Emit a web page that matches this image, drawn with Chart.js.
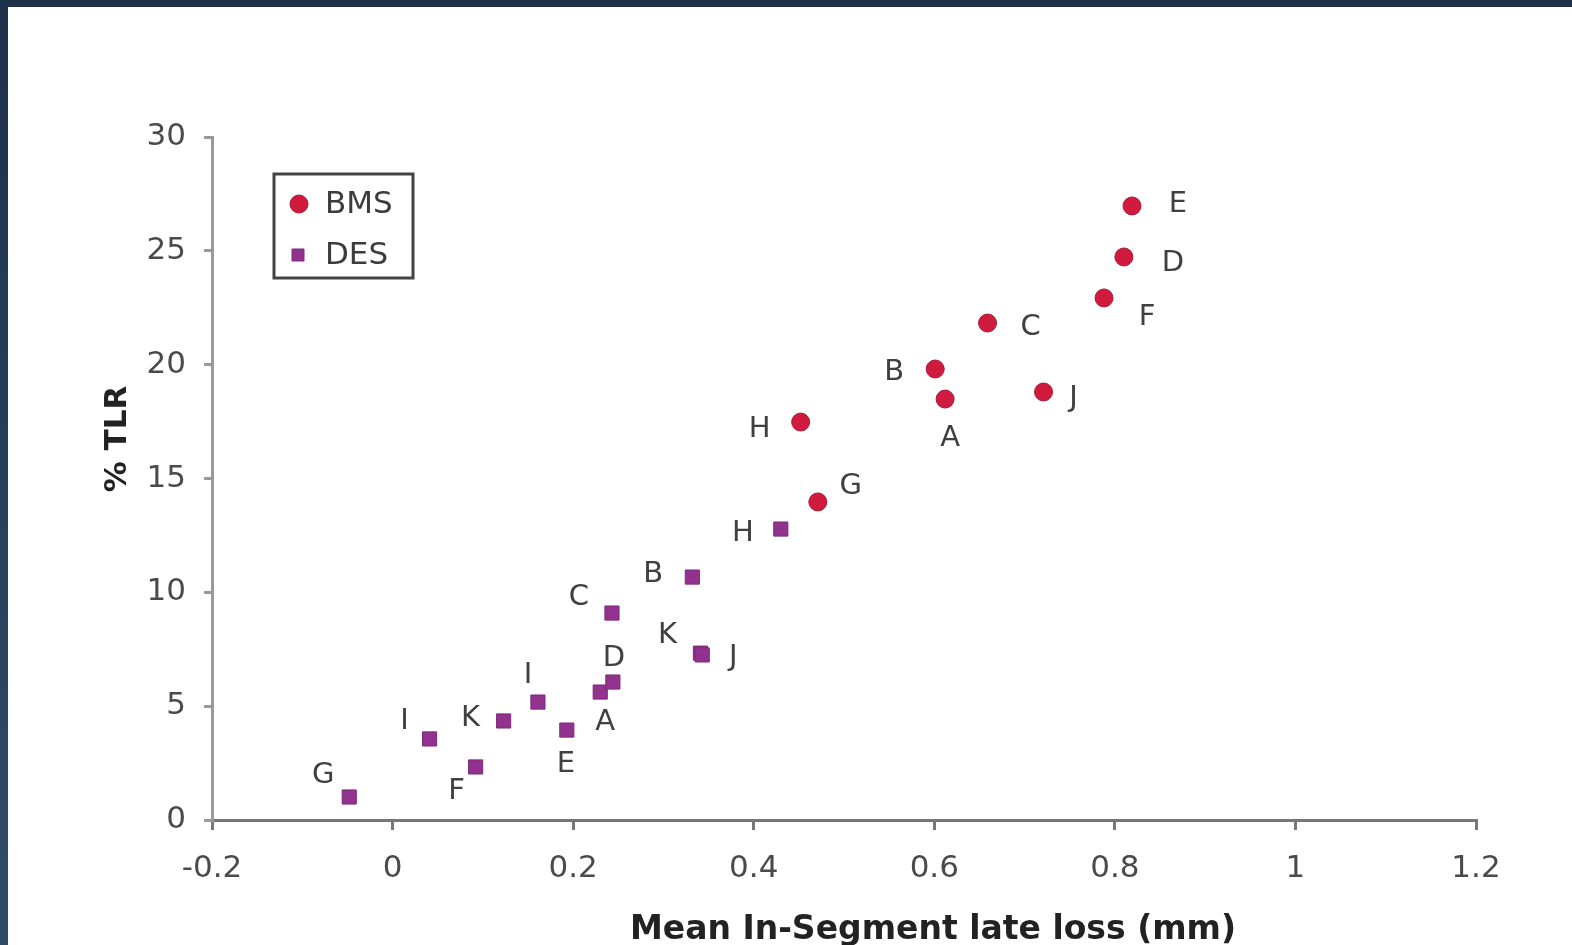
<!DOCTYPE html>
<html lang="en">
<head>
  <meta charset="UTF-8" />
  <title>% TLR vs Mean In-Segment late loss</title>
  <script src="https://cdn.jsdelivr.net/npm/chart.js"></script>
  <style>
    body {
      margin: 0;
      width: 1572px;
      height: 945px;
      overflow: hidden;
      background: linear-gradient(180deg, #1f3049, #2f4d6b);
    }

    .panel {
      position: absolute;
      left: 8px;
      top: 7px;
      width: 1564px;
      height: 938px;
      background: white;
    }

    canvas {
      filter: blur(0.5px);
    }
  </style>
</head>
<body>

  <div class="panel">
    <canvas id="scatter" width="1564" height="938"></canvas>
  </div>

  <script>
    // BMS trials
    const bmsNames = ['E', 'D', 'F', 'C', 'B', 'A', 'J', 'H', 'G'];
    const bmsLoss = [0.819, 0.810, 0.788, 0.659, 0.601, 0.612, 0.721, 0.452, 0.471];
    const bmsTlr = [26.97, 24.73, 22.93, 21.83, 19.81, 18.49, 18.80, 17.48, 13.97];

    // DES trials
    const desNames = ['G', 'I', 'F', 'K', 'I', 'E', 'A', 'D', 'C', 'B', 'K', 'J', 'H'];
    const desLoss = [-0.048, 0.041, 0.092, 0.123, 0.161, 0.193, 0.230, 0.244, 0.243, 0.332, 0.341, 0.343, 0.430];
    const desTlr = [1.01, 3.56, 2.33, 4.35, 5.18, 3.95, 5.62, 6.06, 9.09, 10.67, 7.33, 7.25, 12.78];

    const xTicks = [-0.2, 0, 0.2, 0.4, 0.6, 0.8, 1, 1.2];
    const yTicks = [0, 5, 10, 15, 20, 25, 30];

    // where each letter sits relative to its marker (px)
    const bmsLabelOffsets = [[46, -2], [49, 6], [43, 20], [43, 4], [-41, 3], [5, 39], [30, 6], [-41, 7], [33, -15]];
    const desLabelOffsets = [[-26, -22], [-25, -17], [-19, 25], [-33, -2], [-10, -27], [-1, 34], [5, 30],
                             [1, -24], [-33, -16], [-39, -3], [-33, -18], [31, 3], [-38, 4]];

    const FONT = "'DejaVu Sans', 'Liberation Sans', sans-serif";
    Chart.defaults.font.family = FONT;

    const toPoints = (xs, ys) => xs.map((x, i) => ({ x: x, y: ys[i] }));

    const pointLabels = {
      id: 'pointLabels',
      afterDatasetsDraw(chart) {
        const ctx = chart.ctx;
        const sets = [[bmsNames, bmsLabelOffsets], [desNames, desLabelOffsets]];
        ctx.save();
        ctx.font = '29px ' + FONT;
        ctx.fillStyle = '#404040';
        ctx.textAlign = 'center';
        ctx.textBaseline = 'middle';
        sets.forEach(([names, offs], d) => {
          chart.getDatasetMeta(d).data.forEach((pt, i) => {
            ctx.fillText(names[i], pt.x + offs[i][0], pt.y + offs[i][1]);
          });
        });
        ctx.restore();
      }
    };

    const boxLegend = {
      id: 'boxLegend',
      afterDraw(chart) {
        const ctx = chart.ctx;
        ctx.save();
        ctx.strokeStyle = '#444';
        ctx.lineWidth = 3;
        ctx.strokeRect(266, 167, 139, 104);
        ctx.font = '31px ' + FONT;
        ctx.textAlign = 'left';
        ctx.textBaseline = 'middle';
        chart.data.datasets.forEach((ds, i) => {
          const y = 197 + i * 51;
          ctx.fillStyle = ds.backgroundColor;
          ctx.strokeStyle = ds.borderColor;
          ctx.lineWidth = 1;
          ctx.beginPath();
          if (ds.pointStyle === 'rect') {
            ctx.rect(284, y - 6, 12, 12);
          } else {
            ctx.arc(291, y, 9, 0, Math.PI * 2);
          }
          ctx.fill();
          ctx.stroke();
          ctx.fillStyle = '#3c3c3c';
          ctx.fillText(ds.label, 317, y + 1);
        });
        ctx.restore();
      }
    };

    const axisTitles = {
      id: 'axisTitles',
      afterDraw(chart) {
        const ctx = chart.ctx;
        ctx.save();
        ctx.fillStyle = '#222';
        ctx.textAlign = 'center';
        ctx.textBaseline = 'middle';
        ctx.font = 'bold 33px ' + FONT;
        ctx.fillText('Mean In-Segment late loss (mm)', 925, 923);
        ctx.font = 'bold 31px ' + FONT;
        ctx.translate(110, 432);
        ctx.rotate(-Math.PI / 2);
        ctx.fillText('% TLR', 0, 0);
        ctx.restore();
      }
    };

    new Chart(document.getElementById('scatter'), {
      type: 'scatter',
      data: {
        datasets: [{
          label: 'BMS',
          data: toPoints(bmsLoss, bmsTlr),
          pointStyle: 'circle',
          pointRadius: 9,
          backgroundColor: '#d01a3e',
          borderColor: '#a51a3c',
          borderWidth: 1
        }, {
          label: 'DES',
          data: toPoints(desLoss, desTlr),
          pointStyle: 'rect',
          pointRadius: 10,
          backgroundColor: '#93318f',
          borderColor: '#7b2a7b',
          borderWidth: 1
        }]
      },
      options: {
        responsive: false,
        animation: false,
        devicePixelRatio: 1,
        layout: { padding: { top: 130, right: 96, left: 0, bottom: 0 } },
        plugins: {
          legend: { display: false },
          tooltip: { enabled: false }
        },
        scales: {
          x: {
            type: 'linear',
            min: xTicks[0],
            max: xTicks[xTicks.length - 1],
            afterFit(scale) { scale.height = 125; },
            afterBuildTicks(scale) { scale.ticks = xTicks.map(v => ({ value: v })); },
            ticks: {
              color: '#4a4a4a',
              font: { size: 31 },
              padding: 20,
              maxRotation: 0,
              callback: v => String(Number(v.toFixed(1)))
            },
            grid: { drawOnChartArea: false, drawTicks: true, tickLength: 10, color: '#777', lineWidth: 3 },
            border: { color: '#777', width: 3 }
          },
          y: {
            min: yTicks[0],
            max: yTicks[yTicks.length - 1],
            afterFit(scale) { scale.width = 204; },
            afterBuildTicks(scale) { scale.ticks = yTicks.map(v => ({ value: v })); },
            ticks: {
              color: '#4a4a4a',
              font: { size: 31 },
              padding: 18
            },
            grid: { drawOnChartArea: false, drawTicks: true, tickLength: 8, color: '#999', lineWidth: 3 },
            border: { color: '#999', width: 3 }
          }
        }
      },
      plugins: [pointLabels, boxLegend, axisTitles]
    });
  </script>

</body>
</html>
